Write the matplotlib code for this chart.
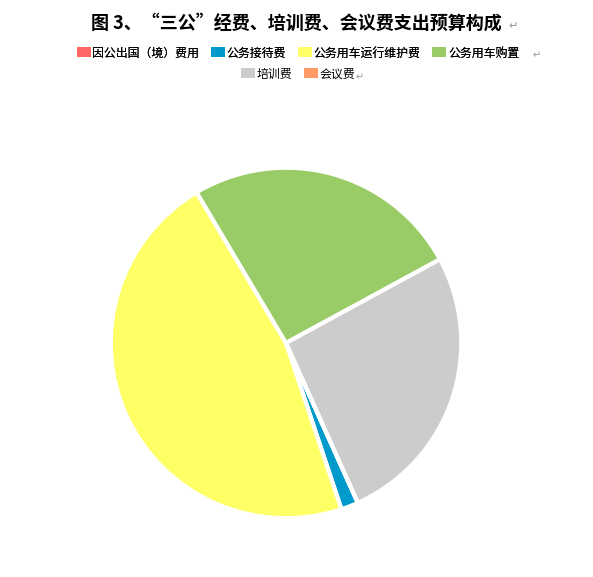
import matplotlib.pyplot as plt
from matplotlib.patches import Patch

plt.rcParams['font.family'] = ['Noto Sans CJK SC', 'DejaVu Sans']

categories = ["因公出国（境）费用", "公务接待费", "公务用车运行维护费", "公务用车购置", "培训费", "会议费"]
values = [0.0, 1.6, 46.6, 25.6, 26.2, 0.0]
colors = ["#FF6666", "#0099CC", "#FFFF66", "#99CC66", "#CCCCCC", "#FF9966"]

fig = plt.figure(figsize=(5.93, 5.77), dpi=100)
ax = fig.add_axes([(286 - 177) / 593, 1 - (343 + 177) / 577, 354 / 593, 354 / 577])

ax.pie(values, colors=colors, startangle=-65.8, counterclock=False,
       wedgeprops=dict(edgecolor="white", linewidth=3))
ax.set_xlim(-1.01, 1.01)
ax.set_ylim(-1.01, 1.01)
ax.set_aspect("equal")

fig.text(0.5, 1 - 23 / 577, "图 3、“三公”经费、培训费、会议费支出预算构成",
         ha="center", va="center", fontsize=13, fontweight="bold")
fig.text(508 / 593, 1 - 26 / 577, "↵", ha="left", va="center", fontsize=8, color="#999999",
         family=["DejaVu Sans"])

handles = [Patch(facecolor=c, edgecolor="none") for c in colors]
legend_style = dict(frameon=False, fontsize=8.6, handlelength=1.15, handleheight=0.9,
                    handletextpad=0.15, columnspacing=1.0, borderpad=0, borderaxespad=0)

leg1 = fig.legend(handles[:4], categories[:4], ncol=4, loc="center",
                  bbox_to_anchor=(298 / 593, 1 - 53 / 577), **legend_style)
leg2 = fig.legend(handles[4:], categories[4:], ncol=2, loc="center",
                  bbox_to_anchor=(298 / 593, 1 - 74 / 577), **legend_style)
fig.add_artist(leg1)

fig.text(533 / 593, 1 - 55 / 577, "↵", ha="left", va="center", fontsize=7, color="#999999",
         family=["DejaVu Sans"])
fig.text(356 / 593, 1 - 77 / 577, "↵", ha="left", va="center", fontsize=7, color="#999999",
         family=["DejaVu Sans"])

fig.savefig("out.png", dpi=100)
